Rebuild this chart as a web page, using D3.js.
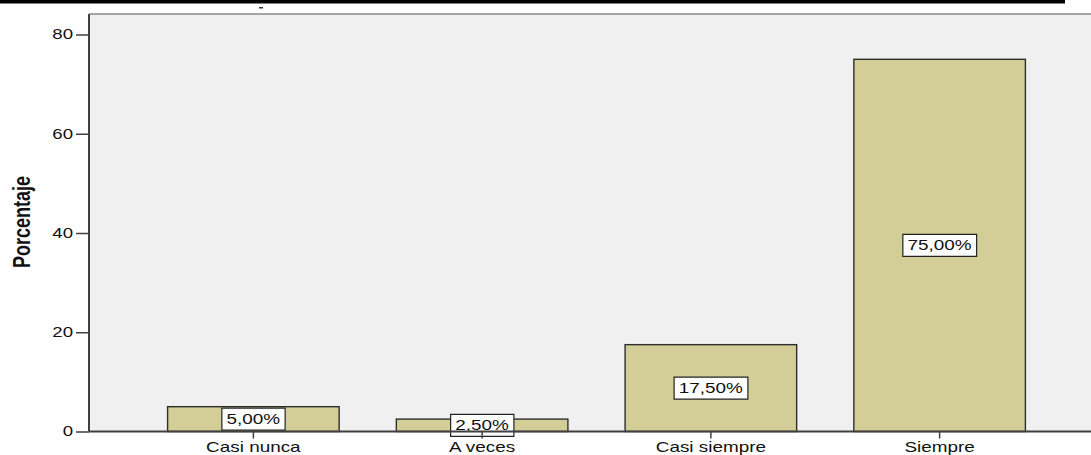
<!DOCTYPE html>
<html>
<head>
<meta charset="utf-8">
<script src="https://cdn.jsdelivr.net/npm/d3@7"></script>
<style>
  body { margin: 0; background: #fff; }
  svg { display: block; }
  text { font-family: "Liberation Sans", Arial, sans-serif; fill: #111; }
</style>
</head>
<body>
<svg id="chart" width="1091" height="455"></svg>
<script>
// Chart data
var categories = ["Casi nunca", "A veces", "Casi siempre", "Siempre"];
var percents = [5.0, 2.5, 17.5, 75.0];
var labels = ["5,00%", "2,50%", "17,50%", "75,00%"];
var yTicks = [0, 20, 40, 60, 80];

var W = 1091, H = 455;
var plotLeft = 89, plotTop = 14, plotBottom = 431.5;
var sx = 1.35;   // the source picture is stretched sideways

var svg = d3.select("#chart");

// the heavy rule across the top of the page
svg.append("rect")
  .attr("x", 0).attr("y", 0)
  .attr("width", 1065).attr("height", 3.5)
  .attr("fill", "#000");
svg.append("rect")
  .attr("x", 259).attr("y", 7)
  .attr("width", 4).attr("height", 1.5)
  .attr("fill", "#333");

var x = d3.scaleBand()
  .domain(categories)
  .range([139, 1054])
  .paddingInner(0.25)
  .paddingOuter(0.125);

var y = d3.scaleLinear()
  .domain([0, 80])
  .range([plotBottom, 34.5]);

// plot background
svg.append("rect")
  .attr("x", plotLeft).attr("y", plotTop)
  .attr("width", W - plotLeft).attr("height", plotBottom - plotTop)
  .attr("fill", "#f0f0f0");
svg.append("line")
  .attr("x1", plotLeft).attr("x2", W)
  .attr("y1", plotTop).attr("y2", plotTop)
  .attr("stroke", "#8a8a8a").attr("stroke-width", 1.6);

// stretch a text selection horizontally, keeping its anchor point
function stretch(sel, k) {
  sel.each(function() {
    var t = d3.select(this);
    var tx = +t.attr("x") || 0;
    t.attr("x", tx / k).attr("transform", "scale(" + k + ",1)");
  });
}

// bars
svg.append("g").selectAll("rect")
  .data(percents)
  .join("rect")
    .attr("x", function(d, i) { return x(categories[i]); })
    .attr("y", function(d) { return y(d); })
    .attr("width", x.bandwidth())
    .attr("height", function(d) { return y(0) - y(d); })
    .attr("fill", "#d3ce97")
    .attr("stroke", "#2e2e2e")
    .attr("stroke-width", 1.4);

// value labels in white boxes, centred on each bar
var lab = svg.append("g").selectAll("g")
  .data(percents)
  .join("g")
    .attr("transform", function(d, i) {
      var cx = x(categories[i]) + x.bandwidth() / 2;
      var cy = (y(d) + y(0)) / 2;
      return "translate(" + cx + "," + cy + ") scale(" + sx + ",1)";
    });
lab.append("rect")
  .attr("fill", "#fff")
  .attr("stroke", "#222")
  .attr("stroke-width", 1.2)
  .attr("vector-effect", "non-scaling-stroke");
lab.append("text")
  .attr("text-anchor", "middle")
  .attr("dy", "0.36em")
  .style("font-size", "14px")
  .text(function(d, i) { return labels[i]; });
lab.each(function() {
  var g = d3.select(this);
  var bb = g.select("text").node().getBBox();
  g.select("rect")
    .attr("x", bb.x - 3.5).attr("width", bb.width + 7)
    .attr("y", -11).attr("height", 22);
});

// y axis
var yAxis = svg.append("g")
  .attr("transform", "translate(" + plotLeft + ",0)")
  .call(d3.axisLeft(y).tickValues(yTicks).tickSize(13).tickPadding(3).tickSizeOuter(0));
yAxis.select(".domain")
  .attr("d", "M0," + plotTop + "V" + plotBottom)
  .attr("stroke", "#404040").attr("stroke-width", 2);
yAxis.selectAll(".tick line").attr("stroke", "#404040").attr("stroke-width", 1.5);
yAxis.selectAll(".tick text")
  .style("font-family", "'Liberation Sans', Arial, sans-serif")
  .style("font-size", "14px")
  .attr("fill", "#111")
  .call(stretch, 1.33);

// x axis
var xAxis = svg.append("g")
  .attr("transform", "translate(0," + plotBottom + ")")
  .call(d3.axisBottom(x).tickSize(7).tickPadding(4).tickSizeOuter(0));
xAxis.select(".domain")
  .attr("d", "M" + plotLeft + ",0H" + W)
  .attr("stroke", "#404040").attr("stroke-width", 2);
xAxis.selectAll(".tick line").attr("stroke", "#404040").attr("stroke-width", 1.5);
xAxis.selectAll(".tick text")
  .style("font-family", "'Liberation Sans', Arial, sans-serif")
  .style("font-size", "14px")
  .attr("fill", "#111")
  .call(stretch, sx);

// y axis title
svg.append("text")
  .attr("transform", "translate(30,222) scale(1.3,1) rotate(-90)")
  .attr("text-anchor", "middle")
  .style("font-size", "18px")
  .style("font-weight", "bold")
  .text("Porcentaje");
</script>
</body>
</html>
